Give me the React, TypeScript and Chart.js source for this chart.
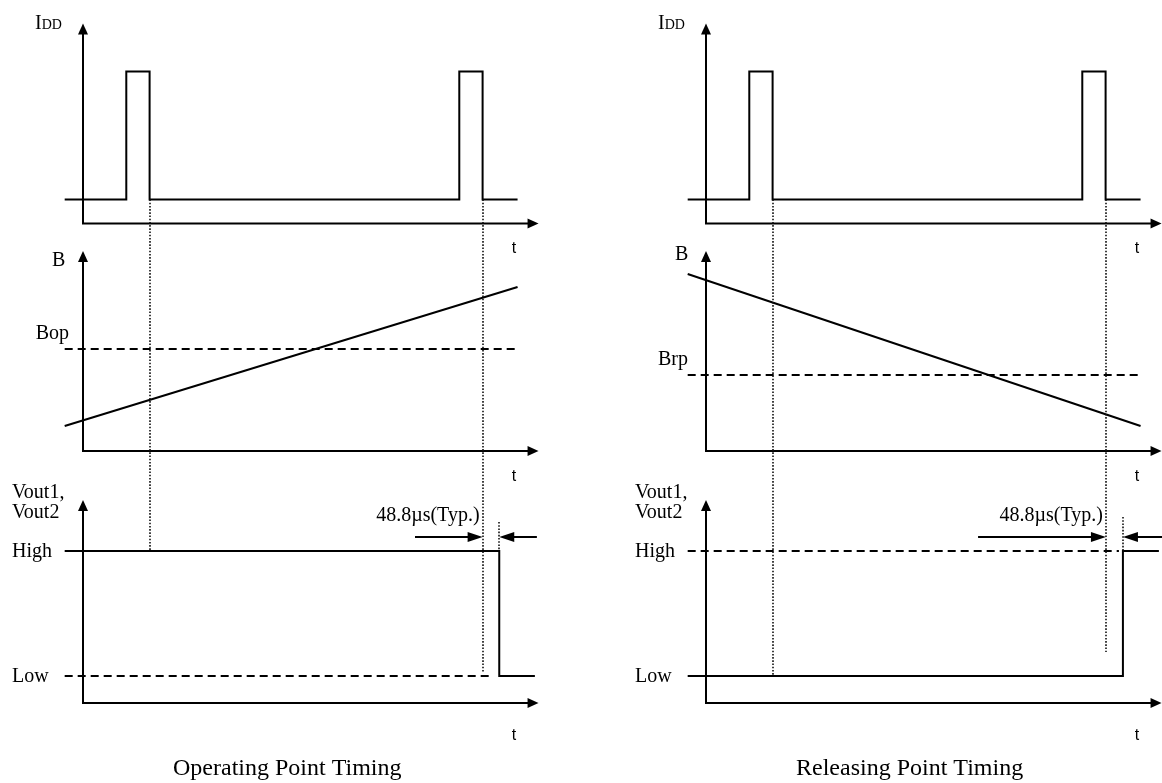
import React, { useEffect, useRef } from "react";
import { Chart, registerables } from "chart.js";

Chart.register(...registerables);

// ---- time axis: arbitrary units, one IDD sampling period = 100 ----
const signalTimes = [-5.5, 130.5];
const axisTimeMax = 136.8;

// IDD pulses (stepped: value changes at each time)
const iddTimes = [-5.5, 13, 20, 113, 120, 130.5];
const iddLevels = [12, 76, 12, 76, 12, 12];

// magnetic flux density B
const bRising = [12.5, 82];
const bFalling = [88.5, 12.5];
const bOpLevel = 51;
const bRpLevel = 38;

// output voltage
const voutHigh = 76;
const voutLow = 13.5;
const opVoutTimes = [-5.5, 125, 135.7];
const opVoutLevels = [voutHigh, voutLow, voutLow];
const opRefTimes = [-5.5, 123];
const rpVoutTimes = [-5.5, 125.2, 136];
const rpVoutLevels = [voutLow, voutHigh, voutHigh];
const rpRefTimes = [-5.5, 124];

// axis tops (value units of each y axis)
const axisTops: Record<string, number> = { yI: 100, yB: 100, yV: 101.5 };

// dotted timing markers: time, start [axis, value], end [axis, value]
const opMarkers = [
  { t: 20, from: ["yI", 12], to: ["yV", 76] },
  { t: 120, from: ["yI", 12], to: ["yV", 15.5] },
  { t: 125, from: ["yV", 90.5], to: ["yV", 76] },
];
const rpMarkers = [
  { t: 20, from: ["yI", 12], to: ["yV", 13.5] },
  { t: 120.1, from: ["yI", 12], to: ["yV", 25.5] },
  { t: 125.2, from: ["yV", 93], to: ["yV", 76] },
];

// delay arrows: [tail, tip]
const delayLevel = 83;
const opDelayIn = [99.7, 120];
const opDelayOut = [136.3, 125];
const rpDelayIn = [81.7, 120.1];
const rpDelayOut = [137.5, 125.2];

const delayLabel = "48.8µs(Typ.)";
const titles = ["Operating Point Timing", "Releasing Point Timing"];
const thresholdLabels = ["Bop", "Brp"];

const W = 1162;
const H = 783;
const PPU_X = 3.33;
const PPU_Y = 2;

const xSpan = (origin: number) => ({ min: -origin / PPU_X, max: (W - origin) / PPU_X });
const ySpan = (origin: number) => ({ min: -(H - origin) / PPU_Y, max: origin / PPU_Y });

const zip = (xs: number[], ys: number[]) => xs.map((x, i) => ({ x, y: ys[i] }));
const flat = (xs: number[], v: number) => xs.map((x) => ({ x, y: v }));

const SERIF = '"Liberation Serif", "Times New Roman", serif';
const SANS = '"Liberation Sans", Arial, sans-serif';

const line = (xAxisID: string, yAxisID: string, data: any[], extra: any = {}) => ({
  xAxisID,
  yAxisID,
  data,
  showLine: true,
  borderColor: "#000",
  borderWidth: 2,
  pointRadius: 0,
  fill: false,
  tension: 0,
  ...extra,
});

const DASH = [8, 5];

const datasets = [
  // operating point (left)
  line("xL", "yI", zip(iddTimes, iddLevels), { stepped: "before" }),
  line("xL", "yB", zip(signalTimes, bRising)),
  line("xL", "yB", flat(signalTimes, bOpLevel), { borderDash: DASH }),
  line("xL", "yV", zip(opVoutTimes, opVoutLevels), { stepped: "before" }),
  line("xL", "yV", flat(opRefTimes, voutLow), { borderDash: DASH }),
  // releasing point (right)
  line("xR", "yI", zip(iddTimes, iddLevels), { stepped: "before" }),
  line("xR", "yB", zip(signalTimes, bFalling)),
  line("xR", "yB", flat(signalTimes, bRpLevel), { borderDash: DASH }),
  line("xR", "yV", zip(rpVoutTimes, rpVoutLevels), { stepped: "before" }),
  line("xR", "yV", flat(rpRefTimes, voutHigh), { borderDash: DASH }),
];

const panels = [
  { x: "xL", markers: opMarkers, dIn: opDelayIn, dOut: opDelayOut, title: titles[0], th: thresholdLabels[0], thLevel: bOpLevel, thDx: -14, bBase: 266 },
  { x: "xR", markers: rpMarkers, dIn: rpDelayIn, dOut: rpDelayOut, title: titles[1], th: thresholdLabels[1], thLevel: bRpLevel, thDx: -18, bBase: 260 },
];

const diagramPlugin = {
  id: "diagram",
  afterDatasetsDraw(chart: any) {
    const ctx: CanvasRenderingContext2D = chart.ctx;
    const s = chart.scales;
    ctx.save();
    ctx.fillStyle = "#000";
    ctx.strokeStyle = "#000";
    panels.forEach((p) => {
      const xs = s[p.x];
      const X = (t: number) => xs.getPixelForValue(t);
      const ox = X(0);
      const xTip = X(axisTimeMax);
      // axes with arrowheads
      ["yI", "yB", "yV"].forEach((id) => {
        const ys = s[id];
        const y0 = ys.getPixelForValue(0);
        const yTop = ys.getPixelForValue(axisTops[id]);
        ctx.lineWidth = 2;
        ctx.setLineDash([]);
        ctx.lineJoin = "miter";
        ctx.beginPath();
        ctx.moveTo(ox, yTop + 8);
        ctx.lineTo(ox, y0);
        ctx.lineTo(xTip - 8, y0);
        ctx.stroke();
        ctx.beginPath();
        ctx.moveTo(ox, yTop);
        ctx.lineTo(ox - 5, yTop + 11);
        ctx.lineTo(ox + 5, yTop + 11);
        ctx.closePath();
        ctx.fill();
        ctx.beginPath();
        ctx.moveTo(xTip, y0);
        ctx.lineTo(xTip - 11, y0 - 5);
        ctx.lineTo(xTip - 11, y0 + 5);
        ctx.closePath();
        ctx.fill();
        // "t" label
        ctx.font = `16px ${SANS}`;
        ctx.textAlign = "center";
        ctx.textBaseline = "alphabetic";
        ctx.fillText("t", ox + 431, y0 + (id === "yV" ? 37 : 29.5));
      });
      // dotted markers
      ctx.lineWidth = 1.6;
      ctx.strokeStyle = "#111";
      ctx.setLineDash([1.6, 1.6]);
      p.markers.forEach((m) => {
        const x = Math.round(X(m.t));
        const yA = s[m.from[0] as string].getPixelForValue(m.from[1] as number);
        const yB = s[m.to[0] as string].getPixelForValue(m.to[1] as number);
        ctx.beginPath();
        ctx.moveTo(x, yA);
        ctx.lineTo(x, yB);
        ctx.stroke();
      });
      ctx.setLineDash([]);
      ctx.strokeStyle = "#000";
      // delay arrows
      const yD = s.yV.getPixelForValue(delayLevel);
      [p.dIn, p.dOut].forEach((a) => {
        const tail = X(a[0]);
        const tip = X(a[1]);
        const dir = tip > tail ? 1 : -1;
        ctx.lineWidth = 2;
        ctx.beginPath();
        ctx.moveTo(tail, yD);
        ctx.lineTo(tip - dir * 12, yD);
        ctx.stroke();
        ctx.beginPath();
        ctx.moveTo(tip, yD);
        ctx.lineTo(tip - dir * 15, yD - 5);
        ctx.lineTo(tip - dir * 15, yD + 5);
        ctx.closePath();
        ctx.fill();
      });
      // labels
      ctx.textBaseline = "alphabetic";
      ctx.textAlign = "left";
      ctx.font = `20px ${SERIF}`;
      ctx.fillText("I", ox - 48, 29);
      const wI = ctx.measureText("I").width;
      ctx.font = `14px ${SERIF}`;
      ctx.fillText("DD", ox - 48 + wI, 29);
      ctx.font = `20px ${SERIF}`;
      ctx.fillText("B", ox - 31, p.bBase);
      ctx.textAlign = "right";
      ctx.fillText(p.th, ox + p.thDx, s.yB.getPixelForValue(p.thLevel) - 10);
      ctx.textAlign = "left";
      ctx.fillText("Vout1,", ox - 71, 498);
      ctx.fillText("Vout2", ox - 71, 518);
      ctx.fillText("High", ox - 71, s.yV.getPixelForValue(voutHigh) + 6);
      ctx.fillText("Low", ox - 71, s.yV.getPixelForValue(voutLow) + 6);
      ctx.textAlign = "right";
      ctx.fillText(delayLabel, X(p.dIn[1]) - 3, yD - 16);
      ctx.textAlign = "left";
      ctx.font = `24px ${SERIF}`;
      ctx.fillText(p.title, ox + 90, 775);
    });
    ctx.restore();
  },
};

const hidden = { display: false, grid: { display: false }, ticks: { display: false } };

export default function App() {
  const ref = useRef<HTMLCanvasElement>(null);
  useEffect(() => {
    document.body.style.margin = "0";
    const chart = new Chart(ref.current as HTMLCanvasElement, {
      type: "scatter",
      data: { datasets: datasets as any },
      options: {
        responsive: false,
        maintainAspectRatio: false,
        devicePixelRatio: 1,
        animation: false,
        events: [],
        layout: { padding: 0 },
        plugins: { legend: { display: false }, tooltip: { enabled: false }, title: { display: false } },
        scales: {
          xL: { type: "linear", position: "bottom", bounds: "data", ...xSpan(83), ...hidden },
          xR: { type: "linear", position: "bottom", bounds: "data", ...xSpan(706), ...hidden },
          yI: { type: "linear", position: "left", bounds: "data", ...ySpan(223.5), ...hidden },
          yB: { type: "linear", position: "left", bounds: "data", ...ySpan(451), ...hidden },
          yV: { type: "linear", position: "left", bounds: "data", ...ySpan(703), ...hidden },
        } as any,
      },
      plugins: [diagramPlugin],
    });
    return () => chart.destroy();
  }, []);
  return (
    <div style={{ position: "fixed", left: 0, top: 0, width: W, height: H, background: "#fff", overflow: "hidden" }}>
      <canvas ref={ref} width={W} height={H} style={{ display: "block", width: W, height: H }} />
    </div>
  );
}
